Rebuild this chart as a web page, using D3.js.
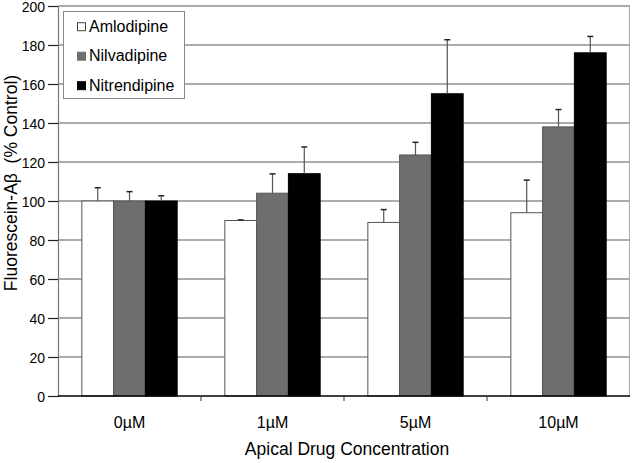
<!DOCTYPE html>
<html>
<head>
<meta charset="utf-8">
<script src="https://cdn.jsdelivr.net/npm/d3@7"></script>
<style>
  html, body { margin: 0; padding: 0; background: #fff; }
  svg { display: block; font-family: Arial, "Liberation Sans", Helvetica, sans-serif; }
</style>
</head>
<body>
<svg id="chart" width="632" height="463"></svg>
<script>
const categories = ["0\u00b5M", "1\u00b5M", "5\u00b5M", "10\u00b5M"];
const seriesNames = ["Amlodipine", "Nilvadipine", "Nitrendipine"];
const amlodipine = [100, 90, 89, 94];
const nilvadipine = [100, 104, 123.6, 138];
const nitrendipine = [100, 114, 155, 176];
const amlodipineErr = [6.8, 0.3, 6.6, 16.7];
const nilvadipineErr = [4.8, 9.9, 6.5, 8.9];
const nitrendipineErr = [2.7, 13.7, 27.7, 8.4];
const yTicks = [0, 20, 40, 60, 80, 100, 120, 140, 160, 180, 200];
const seriesColors = ["#ffffff", "#6e6e6e", "#000000"];

const values = [amlodipine, nilvadipine, nitrendipine];
const errors = [amlodipineErr, nilvadipineErr, nitrendipineErr];

const svg = d3.select("#chart");
const mLeft = 58, mRight = 630, mTop = 6, mBottom = 396;

const x = d3.scaleBand().domain(categories).range([mLeft, mRight]).paddingInner(0).paddingOuter(0);
const y = d3.scaleLinear().domain([0, 200]).range([mBottom, mTop]);
const barW = x.bandwidth() / 4.5;
const xs = d3.scaleBand().domain(seriesNames).range([0, barW * 3]);

// gridlines
svg.append("g").selectAll("line").data(yTicks.filter(d => d > 0)).join("line")
  .attr("x1", mLeft).attr("x2", mRight)
  .attr("y1", d => y(d)).attr("y2", d => y(d))
  .attr("stroke", "#5a5a5a").attr("stroke-width", 1.2);

// right border
svg.append("line").attr("x1", mRight - 0.5).attr("x2", mRight - 0.5)
  .attr("y1", mTop).attr("y2", mBottom).attr("stroke", "#aaa").attr("stroke-width", 1);

// y axis
const yAxis = d3.axisLeft(y).tickValues(yTicks).tickSize(10).tickPadding(3);
const gy = svg.append("g").attr("transform", `translate(${mLeft},0)`).call(yAxis);
gy.select(".domain").attr("stroke", "#777").attr("stroke-width", 1.2);
gy.selectAll(".tick line").attr("stroke", "#222").attr("stroke-width", 1.2);
gy.selectAll(".tick text").attr("font-size", 14).attr("fill", "#000")
  .attr("y", 1)
  .attr("font-family", "Arial, 'Liberation Sans', sans-serif");

// bars
const groups = svg.append("g").selectAll("g").data(categories).join("g")
  .attr("transform", d => `translate(${x(d) + (x.bandwidth() - barW * 3) / 2},0)`);

seriesNames.forEach((s, si) => {
  groups.append("rect")
    .attr("x", xs(s))
    .attr("y", (d, i) => y(values[si][i]))
    .attr("width", barW)
    .attr("height", (d, i) => mBottom - y(values[si][i]))
    .attr("fill", seriesColors[si])
    .attr("stroke", si === 2 ? "#000" : "#555")
    .attr("stroke-width", 1);
  groups.append("line")
    .attr("x1", xs(s) + barW / 2).attr("x2", xs(s) + barW / 2)
    .attr("y1", (d, i) => y(values[si][i]))
    .attr("y2", (d, i) => y(values[si][i] + errors[si][i]))
    .attr("stroke", "#555").attr("stroke-width", 1.2);
  groups.append("line")
    .attr("x1", xs(s) + barW / 2 - 3).attr("x2", xs(s) + barW / 2 + 3)
    .attr("y1", (d, i) => y(values[si][i] + errors[si][i]))
    .attr("y2", (d, i) => y(values[si][i] + errors[si][i]))
    .attr("stroke", "#222").attr("stroke-width", 1.5);
});

// x axis
svg.append("line").attr("x1", mLeft).attr("x2", mRight).attr("y1", mBottom).attr("y2", mBottom)
  .attr("stroke", "#000").attr("stroke-width", 1.3);
svg.append("g").selectAll("line").data(categories.slice(1)).join("line")
  .attr("x1", d => x(d)).attr("x2", d => x(d))
  .attr("y1", mBottom).attr("y2", mBottom + 5)
  .attr("stroke", "#333").attr("stroke-width", 1);
svg.append("g").selectAll("text").data(categories).join("text")
  .attr("x", d => x(d) + x.bandwidth() / 2)
  .attr("y", 428)
  .attr("text-anchor", "middle")
  .attr("font-size", 16)
  .text(d => d);

// axis titles
svg.append("text").attr("x", 347).attr("y", 455).attr("text-anchor", "middle")
  .attr("font-size", 17.5).text("Apical Drug Concentration");
svg.append("text")
  .attr("transform", "translate(17,183) rotate(-90)")
  .attr("text-anchor", "middle")
  .attr("font-size", 17.5)
  .style("white-space", "pre")
  .text("Fluorescein-A\u03b2  (% Control)");

// legend
const lg = svg.append("g");
lg.append("rect").attr("x", 63.5).attr("y", 11.5).attr("width", 121).attr("height", 87)
  .attr("fill", "#fff").attr("stroke", "#888").attr("stroke-width", 1);
const li = lg.selectAll("g").data(seriesNames).join("g")
  .attr("transform", (d, i) => `translate(0,${31.7 + i * 29.5})`);
li.append("rect").attr("x", 77.5).attr("y", -9).attr("width", 8).attr("height", 8)
  .attr("fill", (d, i) => seriesColors[i]).attr("stroke", (d, i) => i === 0 ? "#444" : seriesColors[i]);
li.append("text").attr("x", 89).attr("y", 0).attr("font-size", 16).text(d => d);
</script>
</body>
</html>
